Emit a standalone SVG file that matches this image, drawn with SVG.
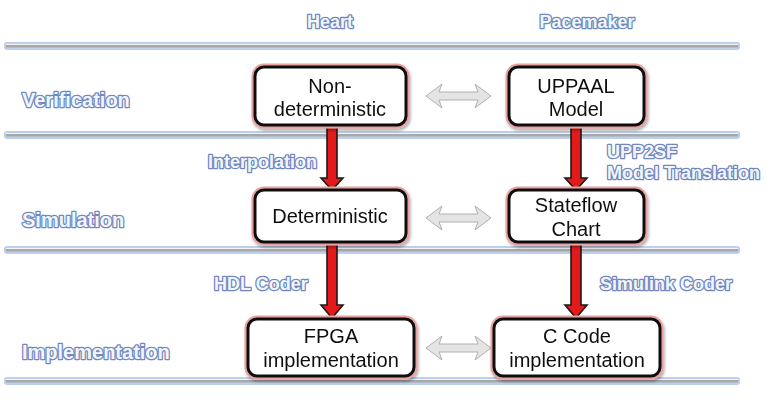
<svg xmlns="http://www.w3.org/2000/svg" width="766" height="400" viewBox="0 0 766 400">
<defs>
<style>
.lbl{font-family:"Liberation Sans",Arial,sans-serif;font-weight:bold;font-size:18px;fill:#f2f6fc;stroke:#7088bc;stroke-width:2.6px;paint-order:stroke;stroke-linejoin:round}
.row{font-size:20px}
.txt{font-family:"Liberation Sans",Arial,sans-serif;font-size:20px;fill:#111;text-anchor:middle}
.glow{fill:none;stroke:#e8a0a0;stroke-width:7}
.box{fill:#fff;stroke:#111;stroke-width:3}
.band{fill:#bcd0ee}
.core{fill:#a8a8a8}
.coreh{fill:#f4f4f4}
.red{fill:#e41a1a;stroke:#1a1a1a;stroke-width:1.6;stroke-linejoin:miter}
.dbl{fill:#e4e4e4;stroke:#b0b0b0;stroke-width:1}
</style>
<filter id="sh" x="-10%" y="-10%" width="130%" height="140%"><feGaussianBlur in="SourceAlpha" stdDeviation="1.5"/><feOffset dx="1" dy="2"/><feComponentTransfer><feFuncA type="linear" slope="0.35"/></feComponentTransfer><feMerge><feMergeNode/><feMergeNode in="SourceGraphic"/></feMerge></filter>
</defs>
<rect width="766" height="400" fill="#fff"/>
<g id="lanes">
<g id="lane1"><rect class="band" x="4" y="42" width="736" height="8" rx="3"/><rect class="core" x="6" y="45" width="732" height="2.5"/><rect class="coreh" x="6" y="44" width="732" height="1"/></g>
<g id="lane2"><rect class="band" x="4" y="131" width="736" height="8" rx="3"/><rect class="core" x="6" y="134" width="732" height="2.5"/><rect class="coreh" x="6" y="133" width="732" height="1"/></g>
<g id="lane3"><rect class="band" x="4" y="246" width="736" height="8" rx="3"/><rect class="core" x="6" y="249" width="732" height="2.5"/><rect class="coreh" x="6" y="248" width="732" height="1"/></g>
<g id="lane4"><rect class="band" x="4" y="377" width="736" height="8" rx="3"/><rect class="core" x="6" y="380" width="732" height="2.5"/><rect class="coreh" x="6" y="379" width="732" height="1"/></g>
</g>
<g id="headers">
<text class="lbl" x="330" y="28" text-anchor="middle">Heart</text>
<text class="lbl" x="587" y="28" text-anchor="middle">Pacemaker</text>
<text class="lbl row" x="22" y="107">Verification</text>
<text class="lbl row" x="22" y="227">Simulation</text>
<text class="lbl row" x="22" y="359">Implementation</text>
</g>
<g id="connectors">
<g id="a1"><polygon class="red" points="327,124 337,124 337,178 343,178 332,190 321,178 327,178"/><text class="lbl" x="208" y="168">Interpolation</text></g>
<g id="a2"><polygon class="red" points="571,124 581,124 581,178 587,178 576,190 565,178 571,178"/><text class="lbl" x="607" y="158">UPP2SF</text><text class="lbl" x="607" y="179">Model Translation</text></g>
<g id="a3"><polygon class="red" points="327,241 337,241 337,305 343,305 332,318 321,305 327,305"/><text class="lbl" x="214" y="290">HDL Coder</text></g>
<g id="a4"><polygon class="red" points="571,241 581,241 581,305 587,305 576,318 565,305 571,305"/><text class="lbl" x="600" y="290">Simulink Coder</text></g>
<polygon class="dbl" points="426,96 442,84 439,92 478,92 475,84 491,96 475,108 478,100 439,100 442,108"/>
<polygon class="dbl" points="426,218 442,206 439,214 478,214 475,206 491,218 475,230 478,222 439,222 442,230"/>
<polygon class="dbl" points="426,348 442,336 439,344 478,344 475,336 491,348 475,360 478,352 439,352 442,360"/>
</g>
<g id="n1" filter="url(#sh)"><rect class="glow" x="255" y="67" width="151" height="58" rx="9"/><rect class="box" x="255" y="67" width="151" height="58" rx="9"/><text class="txt" x="330" y="93">Non-</text><text class="txt" x="330" y="116">deterministic</text></g>
<g id="n2" filter="url(#sh)"><rect class="glow" x="509" y="67" width="135" height="58" rx="9"/><rect class="box" x="509" y="67" width="135" height="58" rx="9"/><text class="txt" x="576" y="93">UPPAAL</text><text class="txt" x="576" y="116">Model</text></g>
<g id="n3" filter="url(#sh)"><rect class="glow" x="255" y="190" width="151" height="52" rx="9"/><rect class="box" x="255" y="190" width="151" height="52" rx="9"/><text class="txt" x="330" y="223">Deterministic</text></g>
<g id="n4" filter="url(#sh)"><rect class="glow" x="509" y="190" width="135" height="52" rx="9"/><rect class="box" x="509" y="190" width="135" height="52" rx="9"/><text class="txt" x="576" y="212">Stateflow</text><text class="txt" x="576" y="236">Chart</text></g>
<g id="n5" filter="url(#sh)"><rect class="glow" x="248" y="319" width="166" height="57" rx="9"/><rect class="box" x="248" y="319" width="166" height="57" rx="9"/><text class="txt" x="331" y="343">FPGA</text><text class="txt" x="331" y="367">implementation</text></g>
<g id="n6" filter="url(#sh)"><rect class="glow" x="494" y="319" width="166" height="57" rx="9"/><rect class="box" x="494" y="319" width="166" height="57" rx="9"/><text class="txt" x="577" y="343">C Code</text><text class="txt" x="577" y="367">implementation</text></g>
</svg>
